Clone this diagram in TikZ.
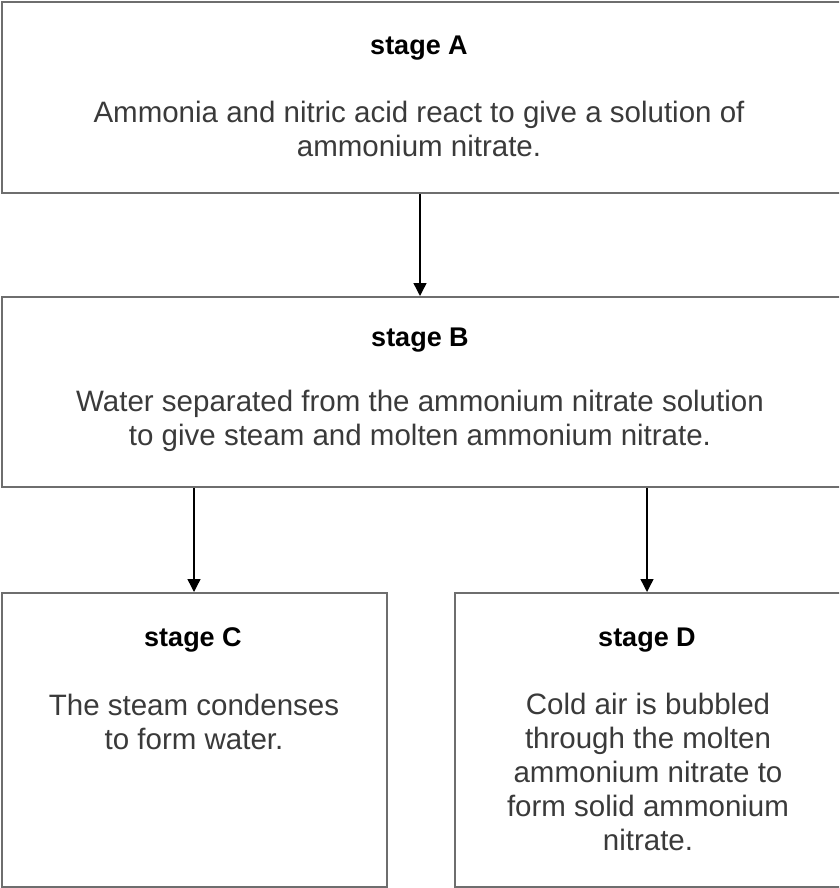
\documentclass[tikz,border=0pt]{standalone}
\usepackage{fontspec}
\setmainfont{Liberation Sans}
\usetikzlibrary{arrows.meta}
\definecolor{boxgray}{HTML}{6E6E6E}
\definecolor{txtgray}{HTML}{3A3A3A}
\tikzset{
  box/.style={draw=boxgray, line width=2pt, anchor=north west, inner sep=0pt},
  title/.style={font=\fontsize{27}{30}\selectfont\bfseries, text=black, inner sep=0pt},
  body/.style={font=\fontsize{29.5}{34}\selectfont, text=txtgray, align=center, inner sep=0pt},
  arr/.style={draw=black, line width=1.4pt, -{Triangle[width=13pt,length=13pt]}},
}
\begin{document}
\begin{tikzpicture}[x=1pt,y=1pt]
\useasboundingbox (0,-888) rectangle (839,0);
\clip (0,-888) rectangle (839,0);
\node[box, minimum width=846pt, minimum height=191pt] (A) at (1,-1) {};
\node[box, minimum width=846pt, minimum height=190pt] (B) at (1,-296) {};
\node[box, minimum width=385pt, minimum height=294pt] (C) at (1,-592) {};
\node[box, minimum width=400pt, minimum height=294pt] (D) at (454,-592) {};

\node[title] (tA) at (419,-48) {stage A};
\node[body] (bA) at (419,-129) {Ammonia and nitric acid react to give a solution of\\ammonium nitrate.};
\node[title] (tB) at (420,-340) {stage B};
\node[body] (bB) at (420,-421) {Water separated from the ammonium nitrate solution\\to give steam and molten ammonium nitrate.};
\node[title] (tC) at (193,-640) {stage C};
\node[body] (bC) at (194,-722) {The steam condenses\\to form water.};
\node[title] (tD) at (647,-640) {stage D};
\node[body] (bD) at (648,-772) {Cold air is bubbled\\through the molten\\ammonium nitrate to\\form solid ammonium\\nitrate.};

\coordinate (xa) at (420,0);
\coordinate (xc) at (194,0);
\coordinate (xd) at (647,0);
\draw[arr] (A.south -| xa) -- (B.north -| xa);
\draw[arr] (B.south -| xc) -- (C.north -| xc);
\draw[arr] (B.south -| xd) -- (D.north -| xd);
\end{tikzpicture}
\end{document}
